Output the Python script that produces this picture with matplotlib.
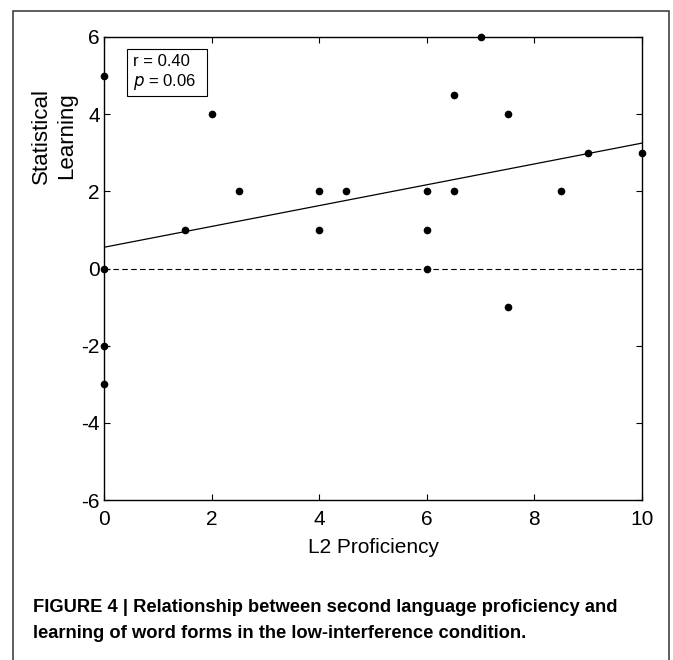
import matplotlib
matplotlib.use("Agg")
import matplotlib.pyplot as plt
from matplotlib.patches import Rectangle

# data
l2_prof = [0, 0, 0, 0, 1.5, 2, 2.5, 4, 4, 4.5, 6, 6, 6, 6.5, 6.5, 7, 7.5, 7.5, 8.5, 9, 10]
stat_learn = [5, 0, -2, -3, 1, 4, 2, 2, 1, 2, 2, 1, 0, 4.5, 2, 6, 4, -1, 2, 3, 3]
fit_x = [0, 10]
fit_y = [0.55, 3.25]
x_ticks = [0, 2, 4, 6, 8, 10]
y_ticks = [-6, -4, -2, 0, 2, 4, 6]

plt.rcParams['font.family'] = ['Liberation Sans', 'DejaVu Sans']
plt.rcParams['axes.unicode_minus'] = False

fig = plt.figure(figsize=(6.73, 6.60), dpi=100)
ax = fig.add_axes([104 / 673, 1 - 500 / 660, 538 / 673, 463 / 660])

# outer frame around figure + caption
fig.patches.append(Rectangle((13 / 673, -0.01), 656 / 673, 649 / 660 + 0.01,
                             transform=fig.transFigure, fill=False,
                             edgecolor='#333333', lw=1.1))

ax.axhline(0, color='black', lw=0.8, linestyle=(0, (5, 3)))
ax.plot(fit_x, fit_y, color='black', lw=0.9)
ax.plot(l2_prof, stat_learn, 'o', color='black', ms=4.5, clip_on=False, zorder=5)

ax.set_xlim(0, 10)
ax.set_ylim(-6, 6)
ax.set_xticks(x_ticks)
ax.set_yticks(y_ticks)
ax.tick_params(direction='in', top=True, right=True, length=4, width=0.8,
               labelsize=15)
ax.tick_params(axis='x', pad=7)
ax.tick_params(axis='y', pad=3)
for s in ax.spines.values():
    s.set_linewidth(1.0)

ax.set_xlabel('L2 Proficiency', fontsize=15, labelpad=7)
fig.text(41 / 673, 1 - 136 / 660, 'Statistical', rotation=90, fontsize=16,
         ha='center', va='center')
fig.text(67 / 673, 1 - 136 / 660, 'Learning', rotation=90, fontsize=16,
         ha='center', va='center')

# stats box
ax.add_patch(Rectangle((127 / 673, 1 - 96 / 660), 80 / 673, 47 / 660,
                       transform=fig.transFigure, fill=False, edgecolor='black',
                       lw=0.8))
fig.text(133 / 673, 1 - 61 / 660, 'r = 0.40', fontsize=12, va='center')
fig.text(133 / 673, 1 - 82 / 660, r'$p$ = 0.06', fontsize=12, va='center',
         math_fontfamily='custom')

fig.text(33 / 673, 1 - 607 / 660,
         'FIGURE 4 | Relationship between second language proficiency and',
         fontsize=13.2, fontweight='bold', va='center')
fig.text(33 / 673, 1 - 634 / 660,
         'learning of word forms in the low-interference condition.',
         fontsize=13.2, fontweight='bold', va='center')

fig.savefig('out.png', dpi=100)
